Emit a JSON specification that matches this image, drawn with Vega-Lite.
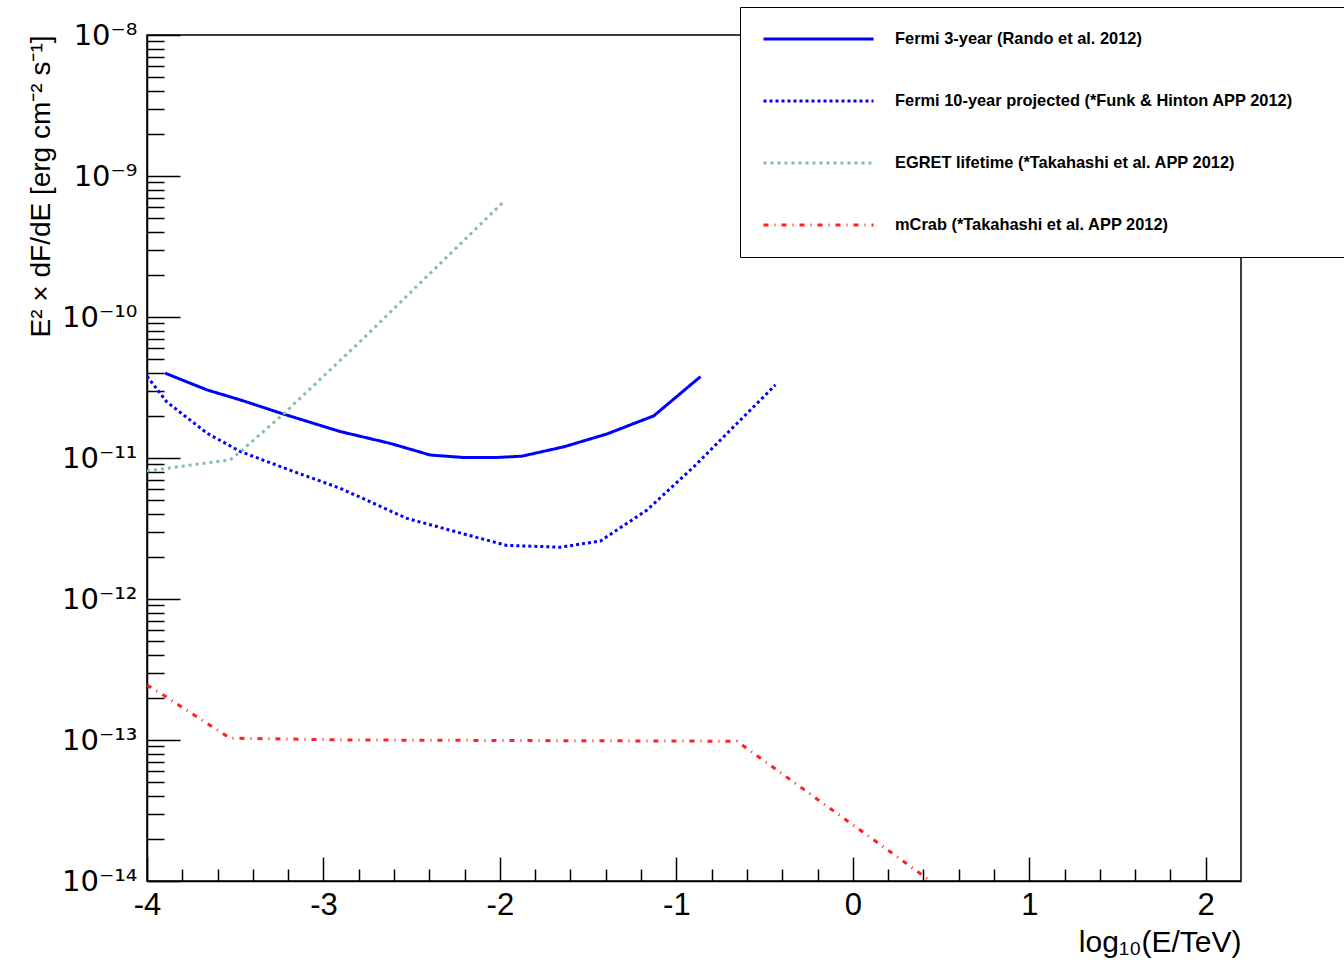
{
  "$schema": "https://vega.github.io/schema/vega-lite/v6.json",
  "width": 1094,
  "height": 846,
  "autosize": "none",
  "padding": {"left": 147, "top": 35, "right": 103, "bottom": 85},
  "background": "white",
  "config": {"view": {"stroke": "black", "strokeWidth": 1.5}, "font": "Liberation Sans"},
  "data": {"values": [
    {"series": "Fermi 3-year (Rando et al. 2012)", "logE": -3.898, "flux": 4.0e-11},
    {"series": "Fermi 3-year (Rando et al. 2012)", "logE": -3.66, "flux": 3.04e-11},
    {"series": "Fermi 3-year (Rando et al. 2012)", "logE": -3.47, "flux": 2.58e-11},
    {"series": "Fermi 3-year (Rando et al. 2012)", "logE": -3.227, "flux": 2.05e-11},
    {"series": "Fermi 3-year (Rando et al. 2012)", "logE": -2.905, "flux": 1.54e-11},
    {"series": "Fermi 3-year (Rando et al. 2012)", "logE": -2.622, "flux": 1.27e-11},
    {"series": "Fermi 3-year (Rando et al. 2012)", "logE": -2.395, "flux": 1.05e-11},
    {"series": "Fermi 3-year (Rando et al. 2012)", "logE": -2.215, "flux": 1.01e-11},
    {"series": "Fermi 3-year (Rando et al. 2012)", "logE": -2.007, "flux": 1.01e-11},
    {"series": "Fermi 3-year (Rando et al. 2012)", "logE": -1.876, "flux": 1.03e-11},
    {"series": "Fermi 3-year (Rando et al. 2012)", "logE": -1.638, "flux": 1.2e-11},
    {"series": "Fermi 3-year (Rando et al. 2012)", "logE": -1.394, "flux": 1.48e-11},
    {"series": "Fermi 3-year (Rando et al. 2012)", "logE": -1.128, "flux": 1.99e-11},
    {"series": "Fermi 3-year (Rando et al. 2012)", "logE": -0.863, "flux": 3.78e-11},
    {"series": "Fermi 10-year projected (*Funk & Hinton APP 2012)", "logE": -4.0, "flux": 3.8e-11},
    {"series": "Fermi 10-year projected (*Funk & Hinton APP 2012)", "logE": -3.888, "flux": 2.5e-11},
    {"series": "Fermi 10-year projected (*Funk & Hinton APP 2012)", "logE": -3.66, "flux": 1.5e-11},
    {"series": "Fermi 10-year projected (*Funk & Hinton APP 2012)", "logE": -3.47, "flux": 1.11e-11},
    {"series": "Fermi 10-year projected (*Funk & Hinton APP 2012)", "logE": -3.19, "flux": 8.2e-12},
    {"series": "Fermi 10-year projected (*Funk & Hinton APP 2012)", "logE": -2.905, "flux": 6.1e-12},
    {"series": "Fermi 10-year projected (*Funk & Hinton APP 2012)", "logE": -2.527, "flux": 3.73e-12},
    {"series": "Fermi 10-year projected (*Funk & Hinton APP 2012)", "logE": -2.149, "flux": 2.77e-12},
    {"series": "Fermi 10-year projected (*Funk & Hinton APP 2012)", "logE": -1.96, "flux": 2.4e-12},
    {"series": "Fermi 10-year projected (*Funk & Hinton APP 2012)", "logE": -1.657, "flux": 2.33e-12},
    {"series": "Fermi 10-year projected (*Funk & Hinton APP 2012)", "logE": -1.43, "flux": 2.58e-12},
    {"series": "Fermi 10-year projected (*Funk & Hinton APP 2012)", "logE": -1.166, "flux": 4.28e-12},
    {"series": "Fermi 10-year projected (*Funk & Hinton APP 2012)", "logE": -0.901, "flux": 8.67e-12},
    {"series": "Fermi 10-year projected (*Funk & Hinton APP 2012)", "logE": -0.637, "flux": 1.86e-11},
    {"series": "Fermi 10-year projected (*Funk & Hinton APP 2012)", "logE": -0.438, "flux": 3.3e-11},
    {"series": "EGRET lifetime (*Takahashi et al. APP 2012)", "logE": -4.0, "flux": 8.1e-12},
    {"series": "EGRET lifetime (*Takahashi et al. APP 2012)", "logE": -3.529, "flux": 9.7e-12},
    {"series": "EGRET lifetime (*Takahashi et al. APP 2012)", "logE": -3.47, "flux": 1.11e-11},
    {"series": "EGRET lifetime (*Takahashi et al. APP 2012)", "logE": -3.227, "flux": 2.05e-11},
    {"series": "EGRET lifetime (*Takahashi et al. APP 2012)", "logE": -2.792, "flux": 6.7e-11},
    {"series": "EGRET lifetime (*Takahashi et al. APP 2012)", "logE": -1.986, "flux": 6.44e-10},
    {"series": "mCrab (*Takahashi et al. APP 2012)", "logE": -4.0, "flux": 2.45e-13},
    {"series": "mCrab (*Takahashi et al. APP 2012)", "logE": -3.898, "flux": 2.05e-13},
    {"series": "mCrab (*Takahashi et al. APP 2012)", "logE": -3.53, "flux": 1.03e-13},
    {"series": "mCrab (*Takahashi et al. APP 2012)", "logE": -2.83, "flux": 1.0e-13},
    {"series": "mCrab (*Takahashi et al. APP 2012)", "logE": -0.656, "flux": 9.8e-14},
    {"series": "mCrab (*Takahashi et al. APP 2012)", "logE": 0.441, "flux": 1.0e-14}
  ]},
  "mark": {"type": "line", "clip": true},
  "encoding": {
    "x": {
      "field": "logE", "type": "quantitative",
      "scale": {"domain": [-4, 2.2], "nice": false, "zero": false},
      "axis": {
        "title": "log₁₀(E/TeV)", "titleAnchor": "end", "titleFontSize": 30, "titleFontWeight": "normal", "titleColor": "black", "titlePadding": -5,
        "values": [-4, -3.8, -3.6, -3.4, -3.2, -3, -2.8, -2.6, -2.4, -2.2, -2, -1.8, -1.6, -1.4, -1.2, -1, -0.8, -0.6, -0.4, -0.2, 0, 0.2, 0.4, 0.6, 0.8, 1, 1.2, 1.4, 1.6, 1.8, 2],
        "labelExpr": "abs(datum.value - round(datum.value)) < 0.01 ? '' + round(datum.value) : ''",
        "labelFontSize": 31, "labelColor": "black", "labelPadding": 33, "labelOverlap": false, "labelFlush": false,
        "tickSize": {"condition": {"test": "abs(datum.value - round(datum.value)) < 0.01", "value": -24}, "value": -12},
        "tickColor": "black", "tickWidth": 1.5, "domainColor": "black", "domainWidth": 1.5, "grid": false
      }
    },
    "y": {
      "field": "flux", "type": "quantitative",
      "scale": {"type": "log", "domain": [1e-14, 1e-8], "nice": false},
      "axis": {
        "title": "E² × dF/dE [erg cm⁻² s⁻¹]", "titleAnchor": "end", "titleFontSize": 28, "titleFontWeight": "normal", "titleColor": "black", "titleX": -92,
        "values": [1e-14, 2e-14, 3e-14, 4e-14, 5e-14, 6e-14, 7e-14, 8e-14, 9e-14, 1e-13, 2e-13, 3e-13, 4e-13, 5e-13, 6e-13, 7e-13, 8e-13, 9e-13, 1e-12, 2e-12, 3e-12, 4e-12, 5e-12, 6e-12, 7e-12, 8e-12, 9e-12, 1e-11, 2e-11, 3e-11, 4e-11, 5e-11, 6e-11, 7e-11, 8e-11, 9e-11, 1e-10, 2e-10, 3e-10, 4e-10, 5e-10, 6e-10, 7e-10, 8e-10, 9e-10, 1e-9, 2e-9, 3e-9, 4e-9, 5e-9, 6e-9, 7e-9, 8e-9, 9e-9, 1e-8],
        "labelExpr": "abs(log(datum.value)/LN10 - round(log(datum.value)/LN10)) > 0.01 ? '' : (round(log(datum.value)/LN10) == -8 ? '10⁻⁸' : round(log(datum.value)/LN10) == -9 ? '10⁻⁹' : round(log(datum.value)/LN10) == -10 ? '10⁻¹⁰' : round(log(datum.value)/LN10) == -11 ? '10⁻¹¹' : round(log(datum.value)/LN10) == -12 ? '10⁻¹²' : round(log(datum.value)/LN10) == -13 ? '10⁻¹³' : '10⁻¹⁴')",
        "labelFont": "DejaVu Sans", "labelFontSize": 29, "labelColor": "black", "labelPadding": 43, "labelOverlap": false, "labelFlush": false,
        "tickSize": {"condition": {"test": "abs(log(datum.value)/LN10 - round(log(datum.value)/LN10)) < 0.01", "value": -33}, "value": -17},
        "tickColor": "black", "tickWidth": 1.5, "domainColor": "black", "domainWidth": 1.5, "grid": false
      }
    },
    "color": {
      "field": "series", "type": "nominal",
      "scale": {
        "domain": ["Fermi 3-year (Rando et al. 2012)", "Fermi 10-year projected (*Funk & Hinton APP 2012)", "EGRET lifetime (*Takahashi et al. APP 2012)", "mCrab (*Takahashi et al. APP 2012)"],
        "range": ["#0000ff", "#0000ff", "#80c0a0", "#ff2020"]
      },
      "legend": {
        "title": " ", "titleOrient": "right", "titlePadding": 45, "titleFontSize": 12, "orient": "none", "legendX": 593, "legendY": -28,
        "fillColor": "white", "strokeColor": "black", "padding": 22,
        "symbolType": "stroke", "symbolSize": 12100, "clipHeight": 20, "rowPadding": 42,
        "labelFontSize": 16.4, "labelFontWeight": "bold", "labelColor": "black", "labelOffset": 20, "labelLimit": 0
      }
    },
    "strokeDash": {
      "field": "series", "type": "nominal",
      "scale": {
        "domain": ["Fermi 3-year (Rando et al. 2012)", "Fermi 10-year projected (*Funk & Hinton APP 2012)", "EGRET lifetime (*Takahashi et al. APP 2012)", "mCrab (*Takahashi et al. APP 2012)"],
        "range": [[1, 0], [3, 3], [3, 4], [5, 6, 1, 6]]
      },
      "legend": {
        "title": " ", "titleOrient": "right", "titlePadding": 45, "titleFontSize": 12, "orient": "none", "legendX": 593, "legendY": -28,
        "fillColor": "white", "strokeColor": "black", "padding": 22,
        "symbolType": "stroke", "symbolSize": 12100, "clipHeight": 20, "rowPadding": 42,
        "labelFontSize": 16.4, "labelFontWeight": "bold", "labelColor": "black", "labelOffset": 20, "labelLimit": 0
      }
    },
    "strokeWidth": {
      "field": "series", "type": "nominal",
      "scale": {
        "domain": ["Fermi 3-year (Rando et al. 2012)", "Fermi 10-year projected (*Funk & Hinton APP 2012)", "EGRET lifetime (*Takahashi et al. APP 2012)", "mCrab (*Takahashi et al. APP 2012)"],
        "range": [3, 3, 3, 1]
      },
      "legend": {
        "title": " ", "titleOrient": "right", "titlePadding": 45, "titleFontSize": 12, "orient": "none", "legendX": 593, "legendY": -28,
        "fillColor": "white", "strokeColor": "black", "padding": 22,
        "symbolType": "stroke", "symbolSize": 12100, "clipHeight": 20, "rowPadding": 42,
        "labelFontSize": 16.4, "labelFontWeight": "bold", "labelColor": "black", "labelOffset": 20, "labelLimit": 0
      }
    }
  }
}
